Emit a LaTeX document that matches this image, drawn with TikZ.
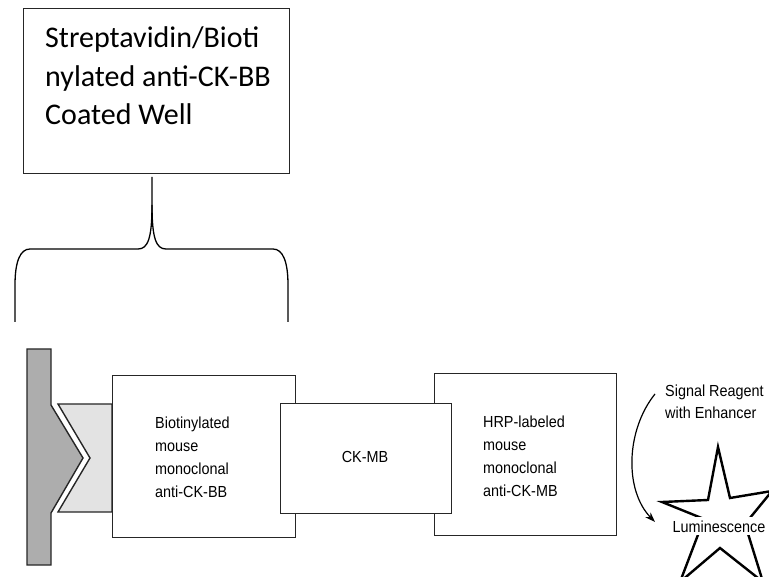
\documentclass[tikz,border=0pt]{standalone}
\usepackage{fontspec}
\setmainfont{Liberation Sans}
\newfontfamily\calib{Carlito}
\newfontfamily\narrow[FakeStretch=0.9]{Liberation Sans}
\usetikzlibrary{arrows.meta}
\begin{document}
\begin{tikzpicture}[x=1pt,y=-1pt,
  boxline/.style={draw=black!85,line width=1.4pt},
  lbl/.style={font=\narrow\fontsize{16}{23}\selectfont,align=left,inner sep=0pt},
  bracel/.style={line width=1.3pt,black}]
\useasboundingbox (0,0) rectangle (769,577);
% top box
\node[boxline,minimum width=266pt,minimum height=165pt,anchor=north west,inner sep=0pt] (topbox) at (23,8) {};
\node[anchor=base west,align=left,inner sep=0pt,font=\calib\fontsize{30}{38.5}\selectfont] (toptext) at (45,125)
  {Streptavidin/Bioti\\nylated anti-CK-BB\\Coated Well};
% brace
\coordinate (stem) at (152,177);
\coordinate (lend) at (15,322);
\coordinate (rend) at (288,322);
\draw[bracel] (stem) -- (152,205) .. controls (152,238) and (148,249) .. (138,249) -- (30,249)
  .. controls (20,249) and (15,262) .. (15,285) -- (lend);
\draw[bracel] (152,205) .. controls (152,238) and (156,249) .. (166,249) -- (273,249)
  .. controls (283,249) and (288,262) .. (288,285) -- (rend);
% well wall
\draw[boxline,fill=black!32] (27,349) -- (51,349) -- (51,405) -- (83,458) -- (51,513) -- (51,565) -- (27,565) -- cycle;
\draw[boxline,fill=black!11] (58,404) -- (112,404) -- (112,512) -- (58,512) -- (90,458) -- cycle;
% boxes
\node[boxline,fill=white,minimum width=183pt,minimum height=162pt,anchor=north west,inner sep=0pt] (bio) at (112,375) {};
\node[boxline,fill=white,minimum width=182pt,minimum height=162pt,anchor=north west,inner sep=0pt] (hrp) at (434,373) {};
\node[boxline,fill=white,minimum width=171pt,minimum height=110pt,anchor=north west,inner sep=0pt] (ckmb) at (280,403) {};
\node[lbl,anchor=base west] (biotext) at (155,497) {Biotinylated\\mouse\\monoclonal\\anti-CK-BB};
\node[lbl,anchor=base west] (hrptext) at (483,496) {HRP-labeled\\mouse\\monoclonal\\anti-CK-MB};
\node[lbl,anchor=base] (cktext) at (365,463) {CK-MB};
% signal reagent
\node[lbl,anchor=base west,font=\narrow\fontsize{16}{21}\selectfont] (sig) at (665,418) {Signal Reagent\\with Enhancer};
% star
\draw[line width=2.4pt,fill=white,line join=miter] (718,447) -- (730,498) -- (772,491) -- (745,524) -- (763,582)
  -- (720,548) -- (680,582) -- (704,519) -- (662,502) -- (708,500) -- cycle;
\node[lbl,anchor=base,fill=white,inner xsep=1pt,inner ysep=3pt] (lum) at (719,532) {Luminescence};
\coordinate (astart) at (655,394);
\coordinate (aend) at (655,522);
\draw[line width=1.2pt,-{Stealth[length=10pt,width=7pt]}] (astart) .. controls (626,430) and (624,490) .. (aend);
\end{tikzpicture}
\end{document}
